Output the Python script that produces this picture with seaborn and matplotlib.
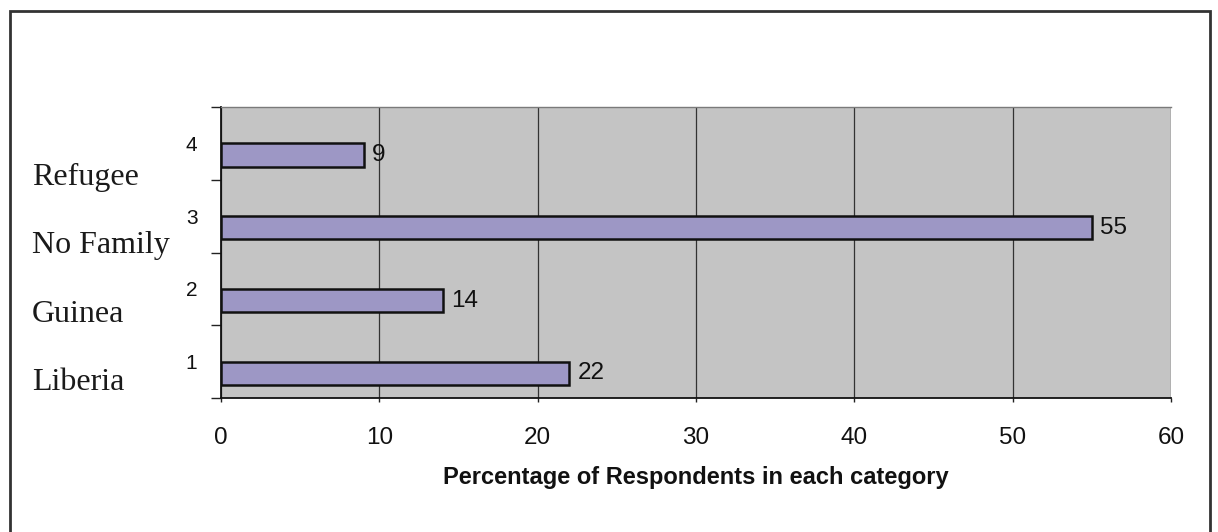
import matplotlib
matplotlib.use("Agg")
import matplotlib.pyplot as plt
from matplotlib.patches import Rectangle
import seaborn as sns
import pandas as pd

# Chart data
categories = ["4", "3", "2", "1"]
percent = [9, 55, 14, 22]
group_names = ["Refugee", "No Family", "Guinea", "Liberia"]
x_ticks = [0, 10, 20, 30, 40, 50, 60]

df = pd.DataFrame({
    "category": categories,
    "percent": percent,
    "series": "Respondents",
})

sns.set_theme(style="white")
plt.rcParams["font.family"] = ["Liberation Sans", "DejaVu Sans"]

W, H = 1218, 532
fig = plt.figure(figsize=(W / 100, H / 100), dpi=100)
fig.patch.set_facecolor("white")

ax = fig.add_axes([221 / W, 1 - 398 / H, (1171 - 221) / W, (398 - 107) / H])
ax.set_facecolor("#c4c4c4")

bar_color = "#9890cc"
# an empty leading series keeps each bar in the lower half of its category slot
sns.barplot(
    data=df, x="percent", y="category", hue="series",
    hue_order=["_blank", "Respondents"], palette=[bar_color, bar_color],
    order=categories, width=0.64, dodge=True, orient="h",
    edgecolor="#111111", linewidth=1.8, legend=False, ax=ax,
)

for cont in ax.containers:
    ax.bar_label(cont, padding=6, fontsize=17.5, color="#111111")

ax.set_xlim(0, 60)
ax.set_ylim(3.5, -0.5)
ax.set_xticks(x_ticks)
ax.set_xticklabels([str(t) for t in x_ticks])
ax.xaxis.grid(True, color="#333333", linewidth=0.9)
ax.yaxis.grid(False)
ax.set_axisbelow(True)

ax.set_yticks(range(len(categories)))
ax.set_yticklabels(categories)
ax.set_yticks([i - 0.5 for i in range(len(categories) + 1)], minor=True)
ax.tick_params(axis="y", which="major", length=0, pad=17, labelsize=15, labelcolor="#111111")
ax.tick_params(axis="y", which="minor", length=7, width=1, color="#222222", direction="out", left=True)
ax.tick_params(axis="x", length=3, width=1, color="#222222", direction="out", bottom=True,
               pad=18, labelsize=17.5, labelcolor="#111111")

ax.set_ylabel("")
ax.set_xlabel("Percentage of Respondents in each category", fontsize=17,
              fontweight="bold", color="#111111", labelpad=12)

for side in ("left", "bottom"):
    ax.spines[side].set_color("#111111")
    ax.spines[side].set_linewidth(1.3)
ax.spines["top"].set_color("#7a7a7a")
ax.spines["top"].set_linewidth(1.0)
ax.spines["right"].set_visible(False)

# group names written beside the numbered categories
label_y = [177, 246, 314, 383]
for name, y in zip(group_names, label_y):
    fig.text(32 / W, 1 - y / H, name, family="Liberation Serif", fontsize=23,
             va="center", ha="left", color="#1a1a1a")

# outer frame around the chart
fig.add_artist(Rectangle((10 / W, -0.05), 1200 / W, 1.05 - 11 / H,
                         transform=fig.transFigure, fill=False,
                         edgecolor="#333333", linewidth=2))

fig.savefig("out.png", dpi=100)
